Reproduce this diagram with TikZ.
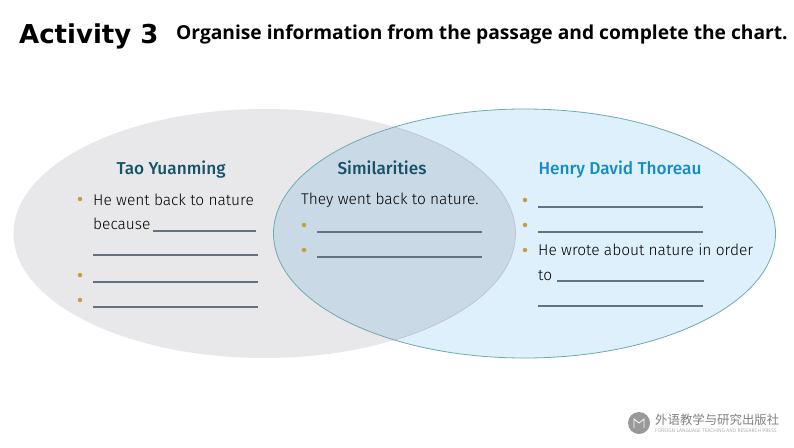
\documentclass[tikz,border=0pt]{standalone}
\usepackage{fontspec}
\setmainfont{Fira Sans Light}[BoldFont=Fira Sans Medium]
\newfontfamily\titlefont{DejaVu Sans}
\newfontfamily\subtitlefont{Open Sans}
\newfontfamily\cjkfont{Noto Sans CJK SC}
\definecolor{venn_grey}{RGB}{232,232,234}
\definecolor{venn_blue}{RGB}{221,240,252}
\definecolor{venn_both}{RGB}{201,217,230}
\definecolor{venn_edge}{RGB}{111,170,170}
\definecolor{head_dark}{RGB}{22,82,104}
\definecolor{head_blue}{RGB}{22,140,198}
\definecolor{blank_line}{RGB}{98,114,128}
\definecolor{dot_gold}{RGB}{205,155,60}
\tikzset{
  heading/.style={inner sep=0pt,font=\fontsize{17.2}{17.2}\selectfont\bfseries},
  bodytext/.style={inner sep=0pt,anchor=base west,text=black,font=\fontsize{15.5}{15.5}\selectfont},
  blank/.style={draw=blank_line,line width=1.2pt},
  golddot/.style={circle,fill=dot_gold,inner sep=0pt,minimum size=4.5pt},
}
\begin{document}
\begin{tikzpicture}[x=1pt,y=-1pt]
    \useasboundingbox (0,0) rectangle (794,447);
    % circles of the chart
    \fill[venn_grey] (264.5,233.5) ellipse [x radius=251,y radius=124.5];
    \fill[venn_blue] (524.5,233.5) ellipse [x radius=251,y radius=124.5];
    \begin{scope}
        \clip (264.5,233.5) ellipse [x radius=251,y radius=124.5];
        \fill[venn_both] (524.5,233.5) ellipse [x radius=251,y radius=124.5];
    \end{scope}
    \draw[venn_edge,line width=0.8pt] (524.5,233.5) ellipse [x radius=251,y radius=124.5];
    \begin{scope}
        \clip (524.5,233.5) ellipse [x radius=251,y radius=124.5];
        \draw[black!25,line width=0.6pt] (264.5,233.5) ellipse [x radius=251,y radius=124.5];
    \end{scope}
    % titles
    \node[anchor=base west,inner sep=0pt,font=\titlefont\bfseries\fontsize{26}{26}\selectfont] (activity) at (19,43) {Activity 3};
    \node[anchor=base west,inner sep=0pt,font=\subtitlefont\bfseries\fontsize{19.2}{19.2}\selectfont] (task) at (176,39) {Organise information from the passage and complete the chart.};
    % left side
    \node[heading,text=head_dark] (tao) at (171,170) {Tao Yuanming};
    \node[golddot] (taoA) at (80,199) {};
    \node[bodytext] (taoB) at (93,205) {He went back to nature};
    \node[bodytext] (taoC) at (93,229) {because};
    \draw[blank] (153,231) to (256,231);
    \draw[blank] (93,255) to (258,255);
    \node[golddot] (taoD) at (80,275) {};
    \draw[blank] (93,282) to (258,282);
    \node[golddot] (taoE) at (80,300) {};
    \draw[blank] (93,307) to (258,307);
    % middle
    \node[heading,text=head_dark] (both) at (382,168) {Similarities};
    \node[bodytext] (bothA) at (301,204) {They went back to nature.};
    \node[golddot] (bothB) at (304,225) {};
    \draw[blank] (317,232) to (482,232);
    \node[golddot] (bothC) at (304,250) {};
    \draw[blank] (317,257) to (482,257);
    % right side
    \node[heading,text=head_blue] (henry) at (620,170) {Henry David Thoreau};
    \node[golddot] (henryA) at (525,200) {};
    \draw[blank] (538,207) to (703,207);
    \node[golddot] (henryB) at (525,225) {};
    \draw[blank] (538,232) to (703,232);
    \node[golddot] (henryC) at (525,250) {};
    \node[bodytext] (henryD) at (538,255) {He wrote about nature in order};
    \node[bodytext] (henryE) at (538,280) {to};
    \draw[blank] (557,281) to (704,281);
    \draw[blank] (538,306) to (703,306);
    % press mark
    \node[circle,fill=black!40,minimum size=22pt,inner sep=0pt] (logo) at (639,423) {};
    \draw[white,line width=0.8pt] (634,428) to (634,419) to (639,423) to (644,419) to (644,428);
    \node[anchor=west,inner sep=0pt,text=black!50,font=\cjkfont\fontsize{12.4}{12.4}\selectfont] (press) at (655,420) {外语教学与研究出版社};
    \node[anchor=west,inner sep=0pt,text=black!45,font=\fontsize{5.2}{5.2}\selectfont] (pressen) at (655,430.5) {FOREIGN LANGUAGE TEACHING AND RESEARCH PRESS};
    \end{tikzpicture}
\end{document}
